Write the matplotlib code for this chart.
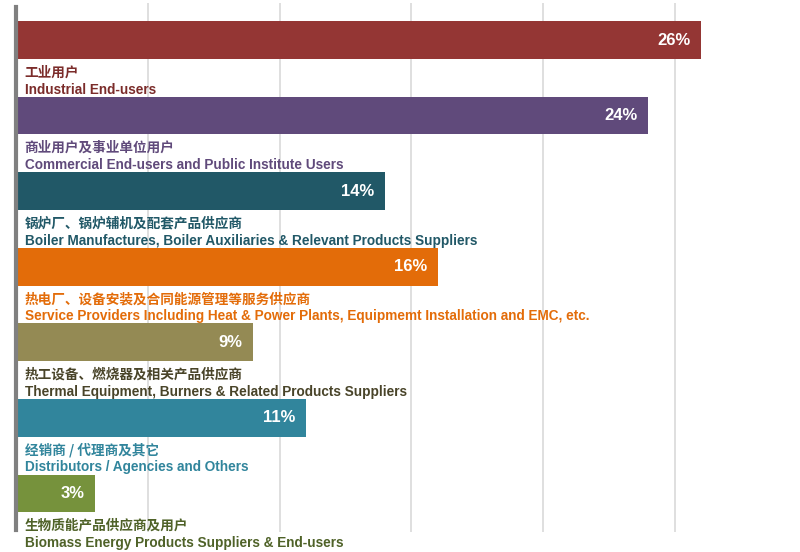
import matplotlib
matplotlib.use("Agg")
import matplotlib.pyplot as plt

values = [26, 24, 14, 16, 9, 11, 3]
labels_cn = ["工业用户", "商业用户及事业单位用户", "锅炉厂、锅炉辅机及配套产品供应商",
             "热电厂、设备安装及合同能源管理等服务供应商", "热工设备、燃烧器及相关产品供应商",
             "经销商 / 代理商及其它", "生物质能产品供应商及用户"]
labels_en = ["Industrial End-users",
             "Commercial End-users and Public Institute Users",
             "Boiler Manufactures, Boiler Auxiliaries & Relevant Products Suppliers",
             "Service Providers Including Heat & Power Plants, Equipmemt Installation and EMC, etc.",
             "Thermal Equipment, Burners & Related Products Suppliers",
             "Distributors / Agencies and Others",
             "Biomass Energy Products Suppliers & End-users"]
bar_colors = ["#943634", "#604A7B", "#215867", "#E36C09", "#948A54", "#31859C", "#76923C"]
text_colors = ["#7B2C2A", "#604A7B", "#215867", "#E36C09", "#494429", "#31859C", "#4F6228"]

fig = plt.figure(figsize=(8, 5.52), dpi=100)
W, H = 800, 552
ax = fig.add_axes([16 / W, 20 / H, 1 - 16 / W, (549 - 20) / H])

ypos = list(range(len(values)))
ax.barh(ypos, values, height=0.5, color=bar_colors, zorder=2)
ax.set_xlim(0, (W - 16) / 26.35)
ax.set_ylim(6.51, -0.49)

for x in [5, 10, 15, 20, 25]:
    ax.axvline(x, color="#d9d9d9", lw=1.2, zorder=1)

for spine in ["top", "right", "bottom"]:
    ax.spines[spine].set_visible(False)
ax.spines["left"].set_color("#808080")
ax.spines["left"].set_linewidth(3)
ax.spines["left"].set_bounds(6.49, -0.44)
ax.spines["left"].set_zorder(3)
ax.set_xticks([])
ax.set_yticks([])

cn_font = ["Noto Sans CJK SC", "DejaVu Sans"]
for i, v in enumerate(values):
    ax.annotate(f"{v}%", xy=(v, i), xytext=(-7.5, 0), textcoords="offset points",
                ha="right", va="center", color="white", fontsize=12,
                fontweight="bold", family="Liberation Sans", zorder=4)
    ax.text(0.33, i + 0.43, labels_cn[i], ha="left", va="center", color=text_colors[i],
            fontsize=9.8, fontweight="semibold", family=cn_font, clip_on=False)
    ax.text(0.33, i + 0.655, labels_en[i], ha="left", va="center", color=text_colors[i],
            fontsize=9.8, fontweight="bold", family="Liberation Sans", clip_on=False)

fig.savefig("out.png", dpi=100)
